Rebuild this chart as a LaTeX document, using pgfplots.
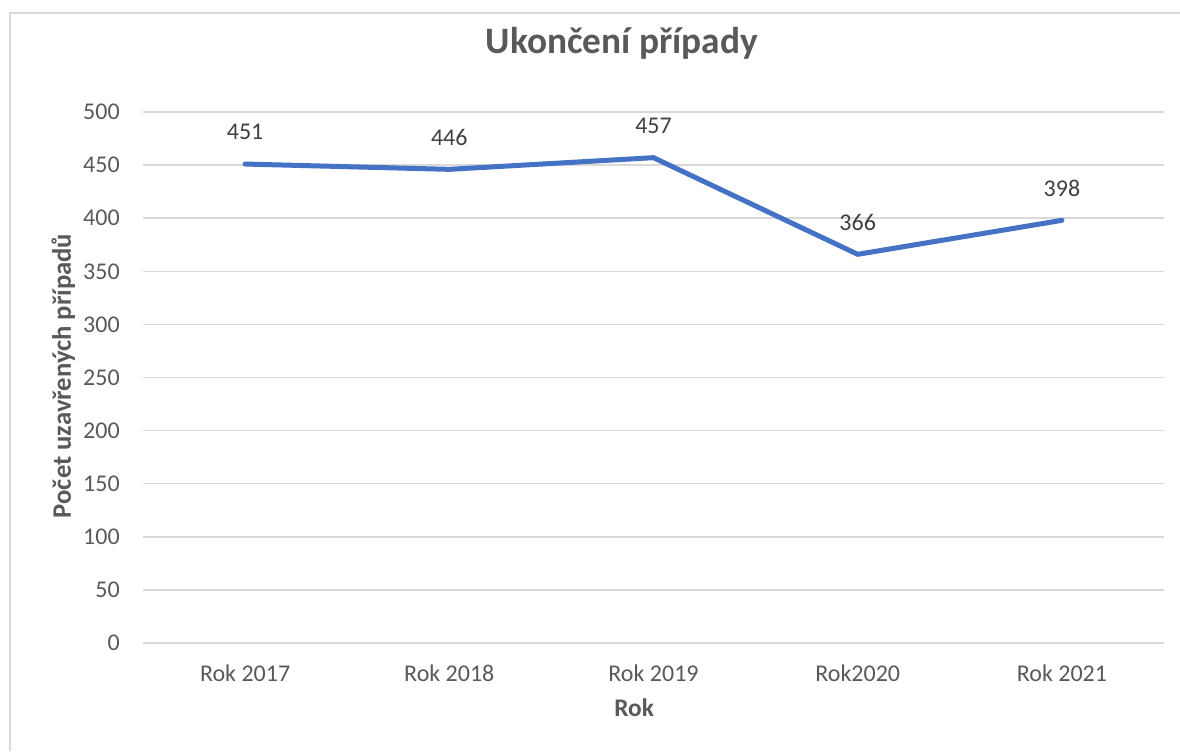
\documentclass[border=0pt]{standalone}
\usepackage{pgfplots}
\pgfplotsset{compat=1.18}
\usepackage{fontspec}
\setmainfont{Carlito}
\definecolor{txtgray}{HTML}{595959}
\definecolor{lblgray}{HTML}{404040}
\definecolor{gridgray}{HTML}{D9D9D9}
\definecolor{lineblue}{HTML}{4472C4}
\begin{document}
\begin{tikzpicture}
\useasboundingbox (0,0) rectangle (885pt,563.25pt);
\draw[gridgray, line width=1.2pt] (7.5pt,0) -- (7.5pt,553.5pt) -- (885pt,553.5pt);
\begin{axis}[
  at={(107.25pt,81pt)}, anchor=south west,
  scale only axis,
  width=765.75pt, height=398.25pt,
  xmin=-0.5, xmax=4.5, ymin=0, ymax=500,
  xtick={0,1,2,3,4},
  xticklabels={Rok 2017,Rok 2018,Rok 2019,Rok2020,Rok 2021},
  ytick={0,50,...,500},
  ymajorgrids, grid style={gridgray, line width=1.1pt},
  axis line style={draw=none},
  major tick length=0pt,
  /pgf/number format/assume math mode=true,
  tick label style={font=\fontsize{18}{21}\selectfont, text=txtgray},
  yticklabel style={inner sep=0pt, anchor=east, xshift=-17.25pt},
  xticklabel style={inner sep=0pt, anchor=center, yshift=-22.5pt},
  every axis title shift=0pt,
  title={Ukončení případy},
  title style={at={(axis description cs:0.469,1.111)}, anchor=base, inner sep=0pt, font=\fontsize{28}{32}\selectfont\bfseries, text=txtgray},
  xlabel={Rok},
  xlabel style={at={(axis description cs:0.481,-0.1375)}, anchor=base, inner sep=0pt, font=\fontsize{19}{22}\selectfont\bfseries, text=txtgray},
  ylabel={Počet uzavřených případů},
  ylabel style={at={(axis description cs:-0.078,0.503)}, anchor=center, rotate=0, font=\fontsize{20}{23}\selectfont\bfseries, text=txtgray},
  nodes near coords,
  nodes near coords style={anchor=center, yshift=24pt, font=\fontsize{18}{21}\selectfont, text=lblgray},
  clip=false,
]
\addplot[lineblue, line width=3.75pt, line cap=round, line join=round, mark=none]
  coordinates {(0,451) (1,446) (2,457) (3,366) (4,398)};
\end{axis}
\end{tikzpicture}
\end{document}
